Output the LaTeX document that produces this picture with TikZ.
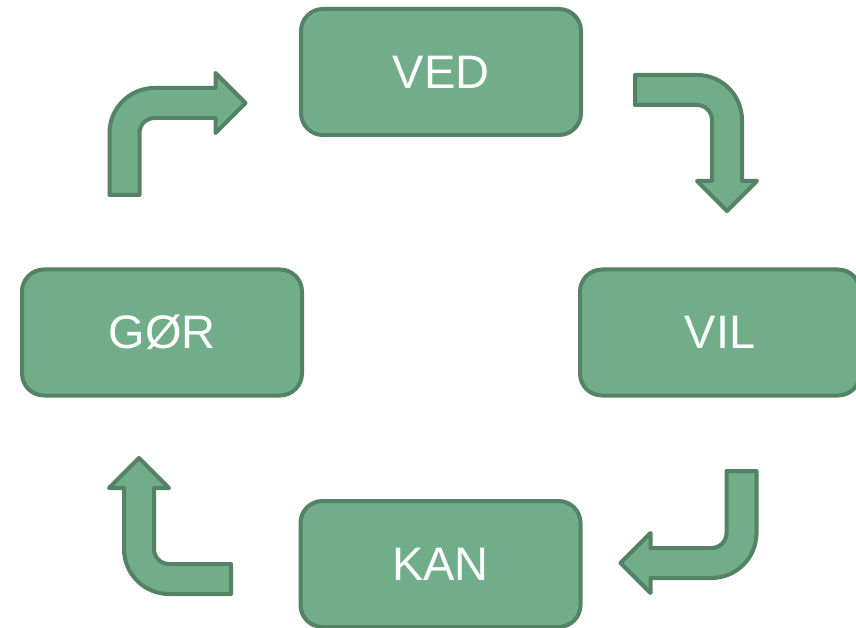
\documentclass[tikz,border=0pt]{standalone}
\usepackage{fontspec}
\setmainfont{Liberation Sans}
\usetikzlibrary{positioning}
\definecolor{boxfill}{RGB}{113,173,137}
\definecolor{boxline}{RGB}{84,130,100}
\begin{document}
\begin{tikzpicture}[
  x=1pt, y=1pt,
  stage/.style={draw=boxline, fill=boxfill, line width=4pt, rounded corners=22pt,
                minimum width=280pt, minimum height=126pt, inner sep=0pt,
                text=white, font=\fontsize{47}{56}\selectfont},
  bent/.style={draw=boxline, fill=boxfill, line width=4pt, line join=round},
  turn arrow/.pic={
    \path[bent] (-15,0) -- (-15,62) arc[start angle=180, end angle=90, radius=45]
      -- (91,107) -- (91,122) -- (121,92) -- (91,62) -- (91,77) -- (30,77)
      arc[start angle=90, end angle=180, radius=15] -- (15,0) -- cycle;
  }
]
\useasboundingbox (0,0) rectangle (856,627);
\node[stage] (gor) at (162,294.5) {GØR};
\node[stage, right=274pt of gor] (vil) {VIL};
\node[stage] (ved) at (441,555) {VED};
\node[stage] (kan) at (440.5,63) {KAN};
% bent arrows between the stages
\pic at (124.5,432) {turn arrow};
\pic[rotate=-90] at (635,537) {turn arrow};
\pic[rotate=180] at (741.5,156) {turn arrow};
\pic[rotate=90] at (231,48) {turn arrow};
\end{tikzpicture}
\end{document}
